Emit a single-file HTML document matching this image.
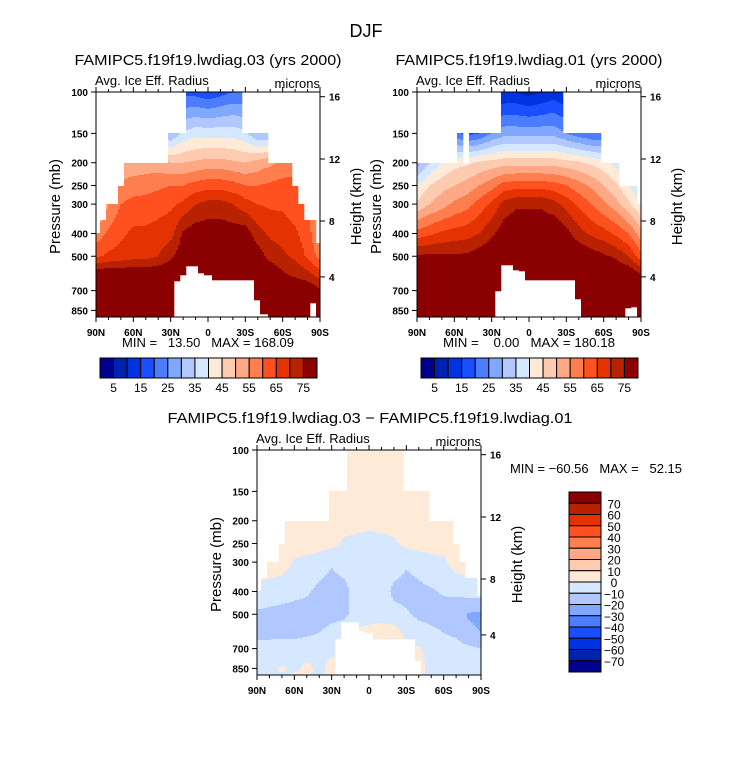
<!DOCTYPE html>
<html><head><meta charset="utf-8"><style>
html,body{margin:0;padding:0;background:#fff;}
svg{display:block;font-family:"Liberation Sans",sans-serif;}
</style></head><body>
<svg id="chart" width="733" height="769" viewBox="0 0 733 769">
<text x="366" y="37" font-size="18" text-anchor="middle">DJF</text>
<g id="plots"></g>
</svg>
<script>
// ---- data: grid latitudes (90N -> 90S, positive = N) and pressure levels (mb)
const gridLats = [90,80,70,60,50,40,30,20,10,0,-10,-20,-30,-40,-50,-60,-70,-80,-90];
const gridLevels = [100,150,200,250,300,400,500,600,700,850,950];
// mask latitudes every 5 deg
const maskLats = [90,85,80,75,70,65,60,55,50,45,40,35,30,25,20,15,10,5,0,-5,-10,-15,-20,-25,-30,-35,-40,-45,-50,-55,-60,-65,-70,-75,-80,-85,-90];

// Panel 1: lwdiag.03 values (rows = levels)
const p1Values = [
 [20,20,20,20,20,20,18,18,18,16,18,20,20,20,20,20,20,20,20],
 [35,35,35,35,35,35,30,36,38,38,38,38,36,30,30,35,35,35,35],
 [52,52,52,52,52,52,50,50,51,52,52,51,50,52,54,56,57,57,57],
 [50,54,56,57,58,59,60,60,62,63,63,62,60,60,61,62,62,60,58],
 [45,55,60,62,62,63,64,66,70,72,72,70,67,65,64,64,62,60,55],
 [57,61,64,66,66,67,68,76,78,78,78,78,78,72,69,68,66,62,55],
 [64,66,67,68,68,70,74,78,80,80,80,80,80,78,73,71,69,64,58],
 [80,80,80,80,80,80,80,80,80,80,80,80,80,80,80,76,74,72,68],
 [80,80,80,80,80,80,80,80,80,80,80,80,80,80,80,80,80,80,76],
 [80,80,80,80,80,80,80,80,80,80,80,80,80,80,80,80,80,80,80],
 [80,80,80,80,80,80,80,80,80,80,80,80,80,80,80,80,80,80,80]];
const p1Top = [400,350,300,300,250,200,200,200,200,200,200,200,150,150,150,100,100,100,100,100,100,100,100,100,150,150,150,150,200,200,200,200,250,300,350,350,440];
const p1Ground = [0,0,0,0,0,0,0,0,0,0,0,0,0,640,600,550,550,590,600,630,630,630,630,630,630,630,770,880,0,0,0,0,0,0,0,790,0];

// Panel 2: lwdiag.01 values
const p2Values = [
 [10,10,10,10,10,10,10,10,10,8,10,12,10,10,10,10,10,10,10],
 [20,20,20,22,18,20,25,28,28,28,28,28,25,22,20,20,20,20,20],
 [28,35,40,43,44,46,47,48,48,48,48,48,47,46,44,42,38,32,28],
 [40,45,48,50,52,55,58,62,63,63,63,62,60,57,54,50,46,40,35],
 [46,50,53,56,58,62,66,72,74,74,74,72,68,64,60,56,52,46,40],
 [62,64,66,67,68,70,74,78,80,80,80,80,77,72,69,67,64,60,52],
 [76,76,76,76,76,78,80,80,80,80,80,80,80,80,78,76,74,70,62],
 [80,80,80,80,80,80,80,80,80,80,80,80,80,80,80,80,80,80,76],
 [80,80,80,80,80,80,80,80,80,80,80,80,80,80,80,80,80,80,80],
 [80,80,80,80,80,80,80,80,80,80,80,80,80,80,80,80,80,80,80],
 [80,80,80,80,80,80,80,80,80,80,80,80,80,80,80,80,80,80,80]];
const p2Top = [200,200,200,200,200,200,200,150,200,150,150,150,150,150,100,100,100,100,100,100,100,100,100,100,150,150,150,150,150,150,200,200,200,250,250,250,300];
const p2Ground = [0,0,0,0,0,0,0,0,0,0,0,0,0,700,545,545,570,575,630,630,630,630,630,630,630,630,760,0,0,0,0,0,0,0,830,820,0];

// Panel 3: difference values
const p3Values = [
 [5,5,5,5,5,5,5,5,5,5,5,5,5,5,5,5,5,5,5],
 [5,5,5,5,5,5,5,5,5,5,5,5,5,5,5,5,5,5,5],
 [5,5,5,5,5,5,5,5,4,3,4,5,5,5,5,5,5,5,5],
 [5,5,5,5,5,5,3,-2,-3,-4,-3,-2,3,5,5,5,5,5,5],
 [5,5,5,-1,-3,-6,-9,-6,-4,-4,-4,-6,-9,-7,-4,-2,5,5,5],
 [-2,-4,-6,-8,-9,-12,-14,-13,-6,-5,-6,-12,-13,-12,-11,-9,-8,-6,-5],
 [-12,-13,-13,-13,-13,-14,-13,-12,-6,-4,-5,-7,-9,-12,-13,-14,-16,-21,-22],
 [-13,-13,-13,-13,-12,-10,-7,-5,2,3,6,5,-3,-6,-8,-10,-12,-18,-20],
 [-6,-6,-5,-5,-4,-3,-2,2,8,8,12,8,2,1,-4,-5,-6,-8,-10],
 [-3,-2,1,-2,2,-2,3,-3,-3,-3,-3,-3,2,3,-3,-4,-3,-2,-3],
 [-3,2,-2,3,1,-3,3,-3,-3,-3,-3,-3,3,-2,1,-4,-3,-2,-3]];
const p3Top = [400,350,300,300,250,200,200,200,200,200,200,200,150,150,150,100,100,100,100,100,100,100,100,100,150,150,150,150,200,200,200,200,250,300,350,350,420];
const p3Ground = [0,0,0,0,0,0,0,0,0,0,0,0,0,640,540,540,540,590,600,636,636,636,636,636,636,636,790,0,0,0,0,0,0,0,0,0,0];

// tick label arrays
const pressureTicks = [100,150,200,250,300,400,500,700,850];
const heightTicks = ["16","12","8","4"];
const heightTickP = [104.7,192.8,354,612];
const latTickVals = [90,60,30,0,-30,-60,-90];
const latTickLabels = ["90N","60N","30N","0","30S","60S","90S"];
const absLabels = ["5","15","25","35","45","55","65","75"];
const diffLabels = ["70","60","50","40","30","20","10","0","\u221210","\u221220","\u221230","\u221240","\u221250","\u221260","\u221270"];

const palette = ["#00008f","#0022b0","#0033e0","#1a4fff","#4d7dff","#80a8ff","#b0c8ff","#d6e8ff","#ffead8","#ffcbb0","#ffa886","#ff7e4e","#ff5020","#e43300","#b82200","#8b0000"];

const NS = "http://www.w3.org/2000/svg";
const plots = document.getElementById('plots');
function mk(tag, attrs, parent){
  const e = document.createElementNS(NS, tag);
  for (const k in attrs) e.setAttribute(k, attrs[k]);
  (parent||plots).appendChild(e);
  return e;
}
const W = 224, H = 225, PXDEC = 235;
function yOfP(pan, p){ return pan.y0 + PXDEC*Math.log10(p/100); }
function pOfY(pan, y){ return 100*Math.pow(10,(y-pan.y0)/PXDEC); }
function xOfLat(pan, lat){ return pan.x0 + (90-lat)/180*W; }

function valueAt(vals, lat, p){
  let fi = (90-lat)/10; fi = Math.max(0, Math.min(gridLats.length-1.0001, fi));
  const i0 = Math.floor(fi), t = fi - i0;
  const lp = Math.log(p);
  let k = 0;
  while (k < gridLevels.length-2 && Math.log(gridLevels[k+1]) < lp) k++;
  let s = (lp - Math.log(gridLevels[k]))/(Math.log(gridLevels[k+1])-Math.log(gridLevels[k]));
  s = Math.max(0, Math.min(1, s));
  const a = vals[k][i0]*(1-t)+vals[k][i0+1]*t;
  const b = vals[k+1][i0]*(1-t)+vals[k+1][i0+1]*t;
  return a*(1-s)+b*s;
}
function idxAbs(v){ return v<5?0:Math.min(15,Math.floor(v/5)); }
function idxDiff(v){ if(v>=70) return 15; if(v<-70) return 0; return Math.max(0,Math.min(15,Math.floor(v/10)+8)); }

function drawField(pan, vals, top, ground, idxFn){
  const g = mk('g', {});
  
  
  const step = 2;
  for (let c = 0; c < W/step; c++){
    const xc = pan.x0 + c*step + step/2;
    const lat = 90 - (xc - pan.x0)/W*180;
    const mi = Math.max(0, Math.min(maskLats.length-1, Math.round((90-lat)/5)));
    let runStart = null, runCol = null;
    const flush = (yEnd) => {
      if (runCol !== null){
        const r = mk('rect', {x: pan.x0 + c*step, y: runStart, width: step+0.3, height: yEnd-runStart+0.3, fill: runCol}, g);
        
        
      }
    };
    for (let y = pan.y0; y < pan.y0 + H; y += 1){
      const p = pOfY(pan, y + 0.5);
      let col = null;
      const gp = ground[mi];
      if (p >= top[mi] && !(gp > 0 && p > gp)) col = palette[idxFn(valueAt(vals, lat, p))];
      if (col !== runCol){ flush(y); runStart = y; runCol = col; }
    }
    flush(pan.y0 + H);
  }
}

function drawAxes(pan){
  const g = mk('g', {stroke:'#000','stroke-width':1, fill:'none'});
  
  
  const f = mk('rect', {x:pan.x0, y:pan.y0, width:W, height:H}, g);
  
  
  for (let lat = 90; lat >= -90; lat -= 10){
    const x = xOfLat(pan, lat), L = (lat % 30 === 0) ? 5 : 3;
    mk('line', {x1:x, y1:pan.y0, x2:x, y2:pan.y0-L}, g);
    mk('line', {x1:x, y1:pan.y0+H, x2:x, y2:pan.y0+H+L}, g);
  }
  const tg = mk('g', {'font-size':10, 'font-weight':'bold', fill:'#000'});
  
  
  latTickVals.forEach((lat, i) => {
    const t = mk('text', {x: xOfLat(pan, lat), y: pan.y0+H+19, 'text-anchor':'middle'}, tg);
    t.textContent = latTickLabels[i];
    
    
  });
  pressureTicks.forEach(p => {
    const y = yOfP(pan, p);
    mk('line', {x1:pan.x0, y1:y, x2:pan.x0-5, y2:y}, g);
    const t = mk('text', {x: pan.x0-8, y: y+4, 'text-anchor':'end'}, tg);
    t.textContent = String(p);
    
    
  });
  heightTicks.forEach((h, i) => {
    const y = yOfP(pan, heightTickP[i]);
    mk('line', {x1:pan.x0+W, y1:y, x2:pan.x0+W+5, y2:y}, g);
    const t = mk('text', {x: pan.x0+W+9, y: y+4, 'text-anchor':'start'}, tg);
    t.textContent = h;
    
    
  });
  let t = mk('text', {x: pan.x0-1, y: pan.y0-7, 'font-size':13});
  t.textContent = 'Avg. Ice Eff. Radius';
  
  
  t = mk('text', {x: pan.x0+W, y: pan.y0-4, 'font-size':13, 'text-anchor':'end'});
  t.textContent = 'microns';
  
  
  const cy = pan.y0 + H/2 + 2;
  t = mk('text', {x: 0, y: 0, 'font-size':15, 'text-anchor':'middle', transform:`translate(${pan.x0-36},${cy}) rotate(-90)`});
  t.textContent = 'Pressure (mb)';
  
  
  t = mk('text', {x: 0, y: 0, 'font-size':15, 'text-anchor':'middle', transform:`translate(${pan.x0+W+41},${cy}) rotate(-90)`});
  t.textContent = 'Height (km)';
  
  
}

function textAt(x, y, s, size, anchor, name, tl){
  const a = {x:x, y:y, 'font-size':size, 'text-anchor':anchor||'start'};
  if (tl){ a.textLength = tl; a.lengthAdjust = 'spacingAndGlyphs'; }
  const t = mk('text', a);
  t.textContent = s;
  
  
  return t;
}

function hColorbar(x0, y0, w, h, name){
  const g = mk('g', {});
  
  
  const bw = w/16;
  palette.forEach((c, i) => {
    const r = mk('rect', {x:x0+i*bw, y:y0, width:bw, height:h, fill:c, stroke:'#000', 'stroke-width':1}, g);
    
    
  });
  absLabels.forEach((s, j) => {
    const t = mk('text', {x:x0+(2*j+1)*bw, y:y0+h+14, 'font-size':12, 'text-anchor':'middle'}, g);
    t.textContent = s;
    
    
  });
}

const pan1 = {name:'panel-03', x0:96, y0:92};
const pan2 = {name:'panel-01', x0:417, y0:92};
const pan3 = {name:'panel-diff', x0:257, y0:450};

drawField(pan1, p1Values, p1Top, p1Ground, idxAbs);
drawField(pan2, p2Values, p2Top, p2Ground, idxAbs);
drawField(pan3, p3Values, p3Top, p3Ground, idxDiff);
drawAxes(pan1); drawAxes(pan2); drawAxes(pan3);

textAt(208, 65, 'FAMIPC5.f19f19.lwdiag.03 (yrs 2000)', 15, 'middle', 'panel-03-title', 267);
textAt(529, 65, 'FAMIPC5.f19f19.lwdiag.01 (yrs 2000)', 15, 'middle', 'panel-01-title', 267);
textAt(370, 423, 'FAMIPC5.f19f19.lwdiag.03 \u2212 FAMIPC5.f19f19.lwdiag.01', 15, 'middle', 'panel-diff-title', 405);
textAt(208, 347, 'MIN =   13.50   MAX = 168.09', 13, 'middle', 'panel-03-minmax', 172);
textAt(529, 347, 'MIN =    0.00   MAX = 180.18', 13, 'middle', 'panel-01-minmax', 172);
textAt(510, 473, 'MIN = \u221260.56   MAX =   52.15', 13, 'start', 'panel-diff-minmax', 172);
document.querySelectorAll('text').forEach(t=>t.style.whiteSpace='pre');

hColorbar(100, 358, 217, 20, 'panel-03-colorbar');
hColorbar(421, 358, 217, 20, 'panel-01-colorbar');

// vertical colorbar for difference
(function(){
  const g = mk('g', {});
  
  
  const x0 = 569, y0 = 492, w = 32, hh = 180, bh = hh/16;
  for (let k = 0; k < 16; k++){
    const r = mk('rect', {x:x0, y:y0+k*bh, width:w, height:bh, fill:palette[15-k], stroke:'#000', 'stroke-width':1}, g);
    
    
  }
  diffLabels.forEach((s, j) => {
    const t = mk('text', {x:614, y:y0+(j+1)*bh+5, 'font-size':12, 'text-anchor':'middle'}, g);
    t.textContent = s;
    
    
  });
})();
</script>
</body></html>
